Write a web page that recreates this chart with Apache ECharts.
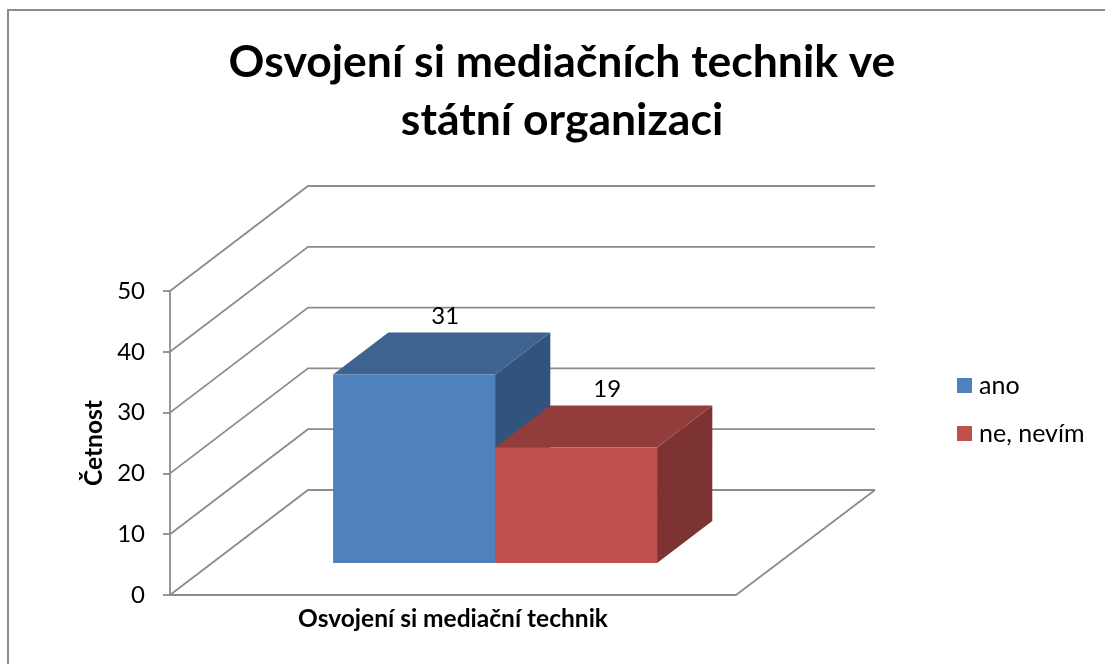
<!DOCTYPE html>
<html><head><meta charset="utf-8">
<style>html,body{margin:0;padding:0;background:#fff}#c{width:1105px;height:664px}</style>
<script src="https://cdn.jsdelivr.net/npm/echarts@6/dist/echarts.min.js"></script>
</head><body><div id="c"></div>
<script>
const titleText = 'Osvojení si mediačních technik ve\nstátní organizaci';
const categories = ['Osvojení si mediační technik'];
const seriesNames = ['ano', 'ne, nevím'];
const anoValues = [31];
const neValues = [19];
const yTicks = [0, 10, 20, 30, 40, 50];
const yAxisName = 'Četnost';

const FONT = 'Lato, "Open Sans", sans-serif';
const GRID = {left: 170, top: 291, width: 566, height: 304};
const DEPTH = {x: 138, y: 105};      // full floor depth offset
const BAR = {width: 162, front: 0.305, back: 0.705};
const LINE = '#8c8c8c';

function wallRender(params, api) {
  const p = api.coord([0, api.value(0)]);
  const x0 = GRID.left, y = p[1];
  const x1 = x0 + DEPTH.x, y1 = y - DEPTH.y, x2 = x1 + GRID.width + 1;
  const children = [{type: 'polyline', shape: {points: [[x0, y], [x1, y1], [x2, y1]]},
    style: {stroke: LINE, lineWidth: 1.8, fill: null}}];
  if (api.value(0) === 0) {
    children.push({type: 'polyline', shape: {points: [[x2, y1], [x0 + GRID.width, y]]},
      style: {stroke: LINE, lineWidth: 1.8, fill: null}});
  }
  return {type: 'group', children};
}

function barRender(index, front, top, side) {
  return function (params, api) {
    const c = api.coord([0, 0]);
    const t = api.coord([0, api.value(1)]);
    const off = index === 0 ? -BAR.width : 0;
    const fx = DEPTH.x * BAR.front, fy = DEPTH.y * BAR.front;
    const bx = DEPTH.x * BAR.back, by = DEPTH.y * BAR.back;
    const l = c[0] + off + fx, r = l + BAR.width;
    const b = c[1] - fy, h = c[1] - t[1], tp = b - h;
    const dx = bx - fx, dy = by - fy;
    return {type: 'group', children: [
      {type: 'polygon', shape: {points: [[r, b], [r + dx, b - dy], [r + dx, tp - dy], [r, tp]]}, style: {fill: side}},
      {type: 'polygon', shape: {points: [[l, tp], [l + dx, tp - dy], [r + dx, tp - dy], [r, tp]]}, style: {fill: top}},
      {type: 'rect', shape: {x: l, y: tp, width: BAR.width, height: h}, style: {fill: front}},
      {type: 'text', x: l + BAR.width / 2 + dx * 0.4 + 9, y: tp - dy - 16,
        style: {text: String(api.value(1)), font: '24px ' + FONT, fill: '#000', align: 'center', verticalAlign: 'middle'}}
    ]};
  };
}

const chart = echarts.init(document.getElementById('c'), null, {renderer: 'canvas'});
chart.setOption({
  animation: false,
  backgroundColor: '#fff',
  title: {
    text: titleText, left: 557, top: 29, textAlign: 'center',
    textStyle: {fontFamily: FONT, fontWeight: 'bold', fontSize: 44.5, lineHeight: 58, color: '#000'}
  },
  legend: {
    orient: 'vertical', left: 952, top: 368, itemWidth: 15, itemHeight: 15, itemGap: 23,
    icon: 'rect', data: seriesNames,
    textStyle: {fontFamily: FONT, fontSize: 25, color: '#000', padding: [0, 0, 0, 2]}
  },
  grid: GRID,
  xAxis: {
    type: 'category', data: categories,
    axisLine: {lineStyle: {color: LINE, width: 1.8}}, axisTick: {show: false},
    axisLabel: {fontFamily: FONT, fontWeight: 'bold', fontSize: 24.5, color: '#000', margin: 12}
  },
  yAxis: {
    type: 'value', min: 0, max: 50, interval: 10, name: yAxisName, nameLocation: 'middle', nameGap: 63,
    nameTextStyle: {fontFamily: FONT, fontWeight: 'bold', fontSize: 24.5, color: '#000', padding: [0, 0, 0, 0]},
    splitLine: {show: false},
    axisLine: {show: true, lineStyle: {color: LINE, width: 1.8}},
    axisTick: {show: true, length: 7, lineStyle: {color: LINE, width: 1.8}},
    axisLabel: {fontFamily: FONT, fontSize: 24, color: '#000', margin: 25, padding: [3, 0, 0, 0]}
  },
  graphic: [
    {type: 'polyline', silent: true, shape: {points: [[8, 664], [8, 10], [1105, 10]]},
      style: {stroke: '#8c8c8c', lineWidth: 2, fill: null}}
  ],
  series: [
    {type: 'custom', name: 'walls', silent: true, z: 1, renderItem: wallRender,
      data: yTicks.map(v => [v]), encode: {y: 0}, tooltip: {show: false}},
    {type: 'custom', name: seriesNames[0], z: 2, itemStyle: {color: '#4F81BD'},
      renderItem: barRender(0, '#4F81BD', '#3E6390', '#32547C'),
      data: anoValues.map((v, i) => [i, v]), encode: {x: 0, y: 1}},
    {type: 'custom', name: seriesNames[1], z: 3, itemStyle: {color: '#C0504D'},
      renderItem: barRender(1, '#C0504D', '#923D3B', '#7D3331'),
      data: neValues.map((v, i) => [i, v]), encode: {x: 0, y: 1}}
  ]
});
</script></body></html>
